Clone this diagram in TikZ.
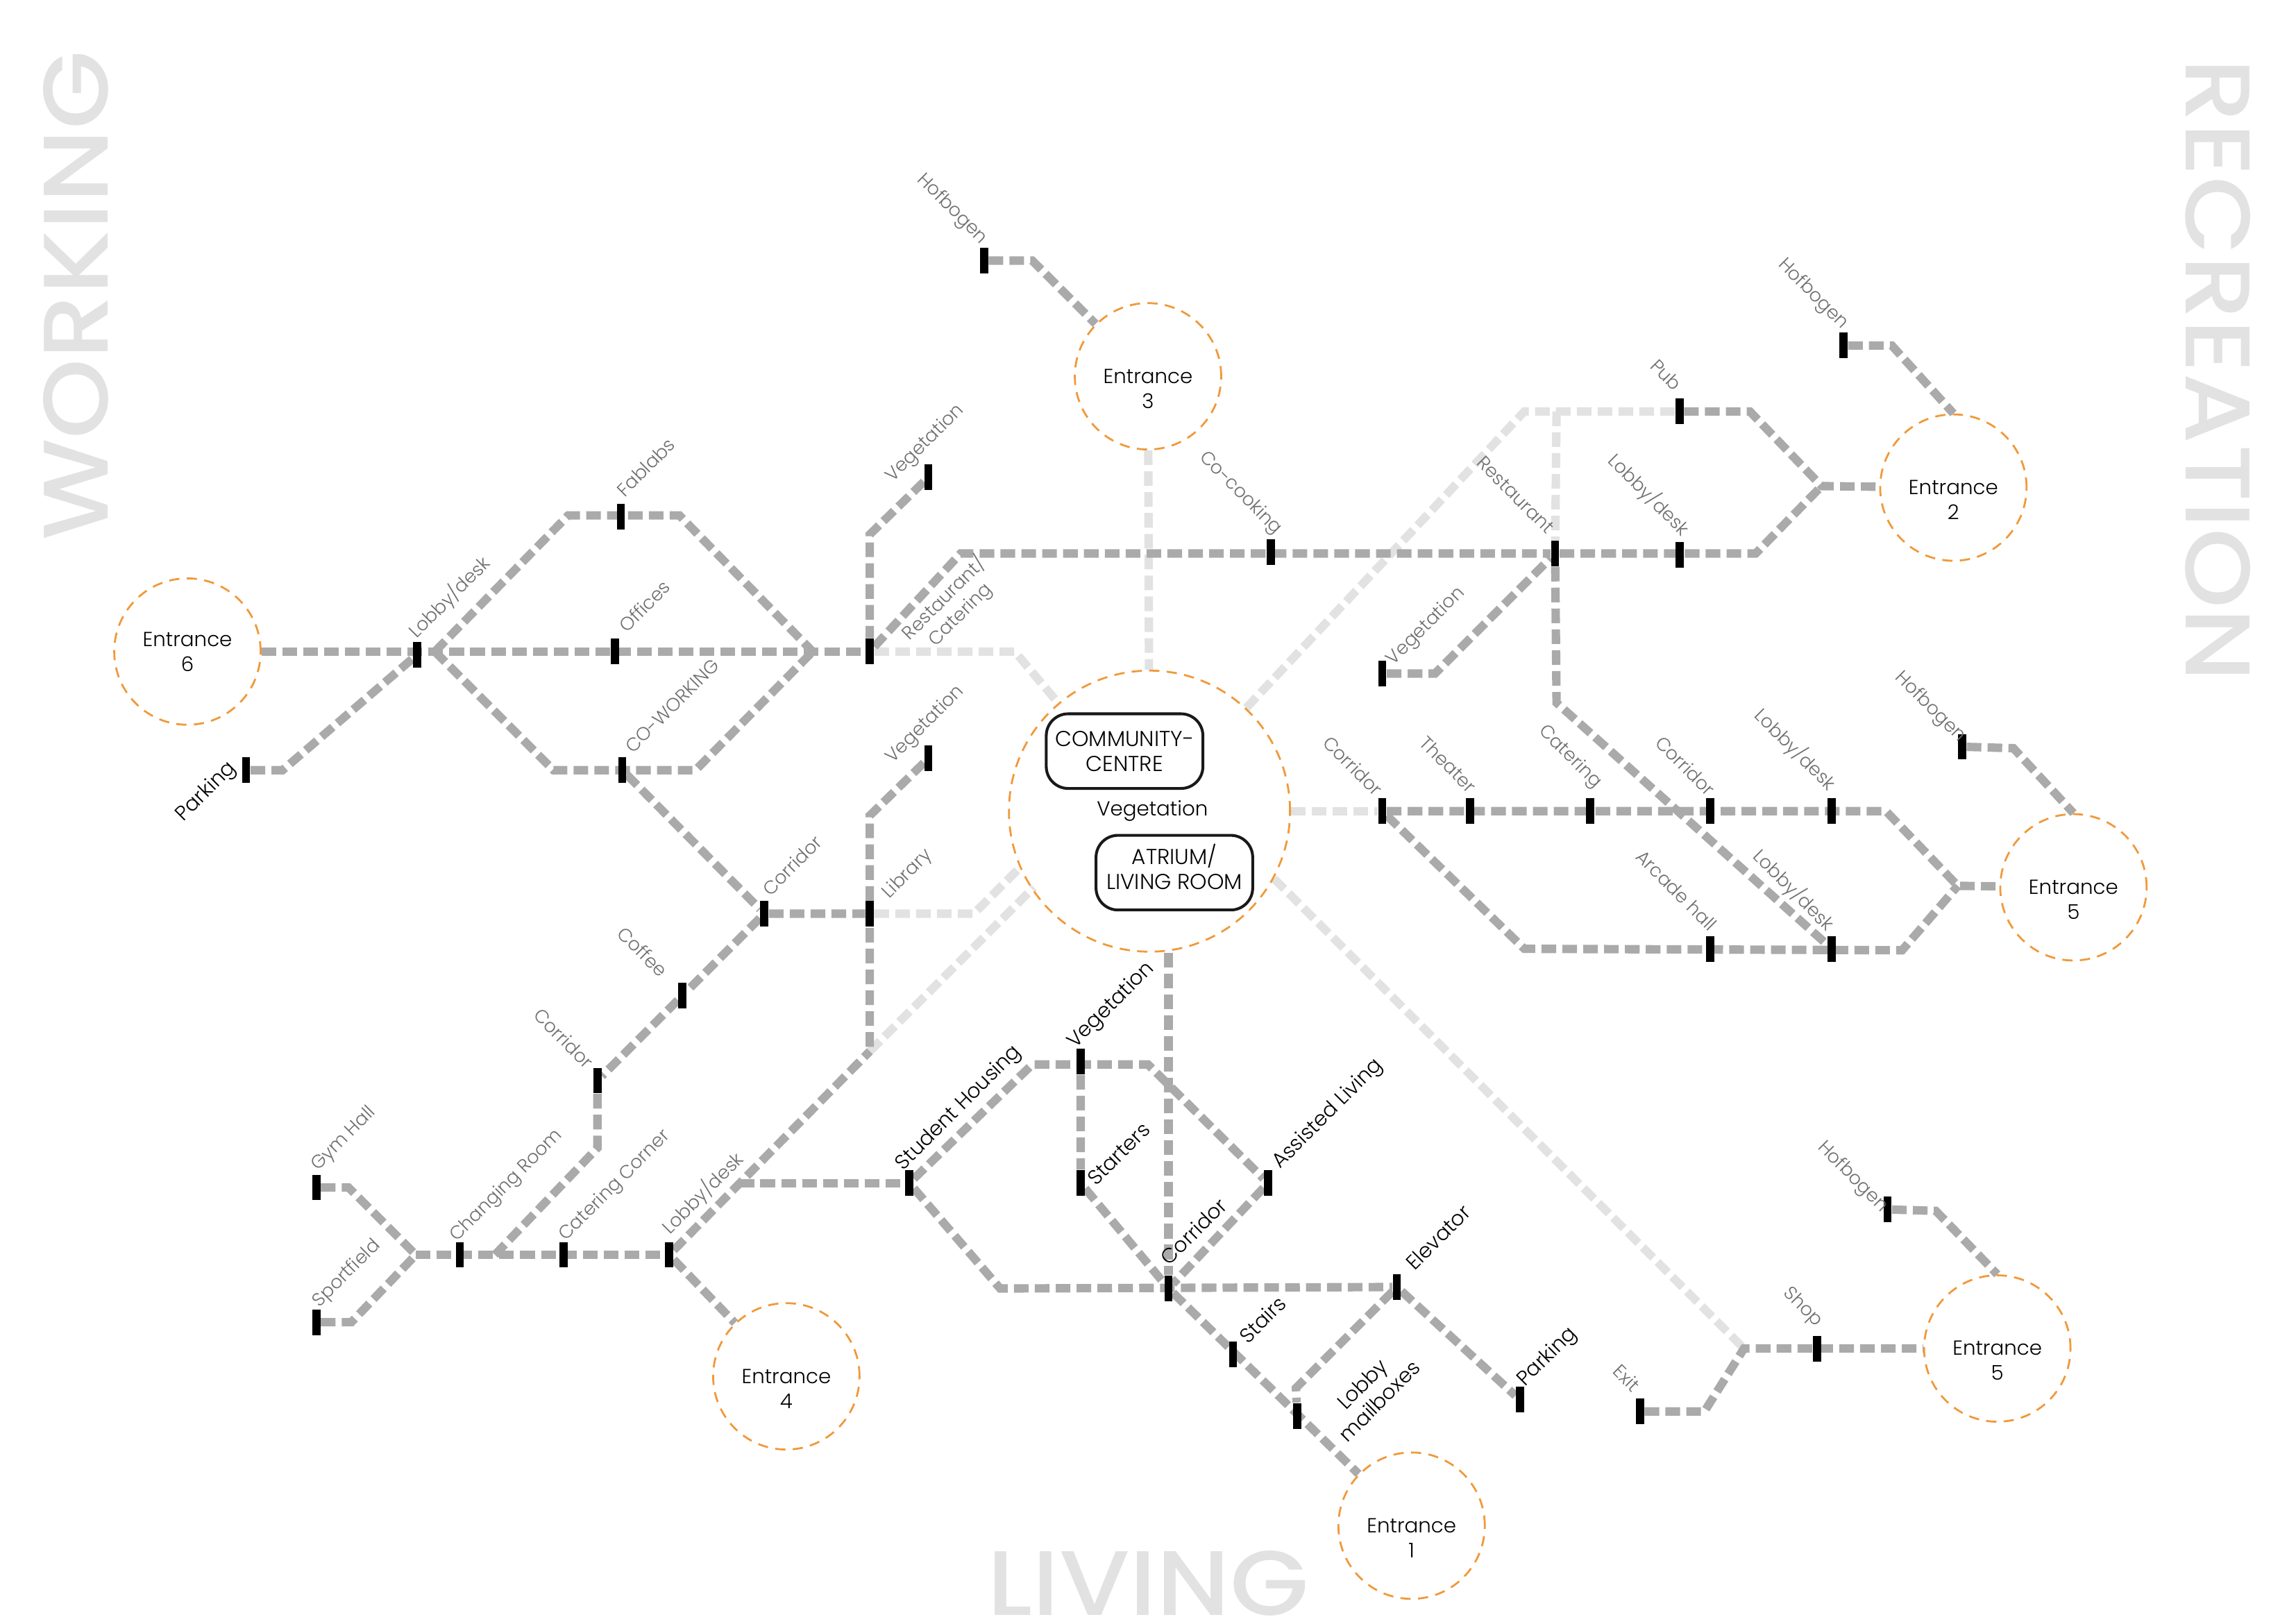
\documentclass[tikz,border=0pt]{standalone}
\usepackage{fontspec}
\setmainfont{Poppins Light}
\newfontfamily\titlefont{Poppins Medium}
\usetikzlibrary{backgrounds, positioning}

\definecolor{railgrey}{HTML}{A9AAA9}
\definecolor{raillight}{HTML}{E1E2E1}
\definecolor{gateorange}{HTML}{F0993A}
\definecolor{labelgrey}{HTML}{707070}

\newcommand{\gatetext}[1]{\rule{0pt}{0.53cm}Entrance\\#1}

\tikzset{
    rail/.style={draw=railgrey, line width=0.115cm, dash pattern=on 0.2cm off 0.085cm},
    lightrail/.style={rail, draw=raillight},
    halt/.style={rectangle, fill=black, minimum width=0.11cm, minimum height=0.35cm, inner sep=0pt},
    gate/.style={circle, draw=gateorange, line width=0.75pt, dash pattern=on 0.14cm off 0.1cm,
        minimum size=2cm, inner sep=0pt, align=center, font=\fontsize{7.9}{9.7}\selectfont},
    room/.style={rectangle, rounded corners=0.3cm, draw=black!90, line width=1.1pt, minimum width=2.14cm,
        minimum height=1.02cm, inner sep=0pt, align=center, font=\fontsize{8.4}{9.8}\selectfont},
    tagup/.style={rotate=45, text=labelgrey, inner sep=0pt, align=center, font=\fontsize{7.2}{8.8}\selectfont},
    tagdown/.style={rotate=-45, text=labelgrey, inner sep=0pt, align=center, font=\fontsize{7.2}{8.8}\selectfont},
    blackup/.style={tagup, text=black, font=\fontsize{8}{9.4}\selectfont},
    zone/.style={text=raillight, inner sep=0pt, font=\titlefont\fontsize{39.6}{40}\selectfont}
}

\begin{document}
\begin{tikzpicture}[x=0.02cm, y=-0.02cm]
    \useasboundingbox (0,0) rectangle (1568,1108.7);

    % Entrances and centre
    \node[gate] (gate6) at (128,445) {Entrance\\6};
    \node[gate] (gate3) at (784,257) {\gatetext{3}};
    \node[gate] (gate2) at (1334,333) {\gatetext{2}};
    \node[gate] (gate5a) at (1416,606) {\gatetext{5}};
    \node[gate] (gate5b) at (1364,921) {\gatetext{5}};
    \node[gate] (gate4) at (537,940) {\gatetext{4}};
    \node[gate] (gate1) at (964,1042) {\gatetext{1}};
    \node[gate, minimum size=3.84cm] (hub) at (785,554) {};
    \node[room] (community) at (768,513) {COMMUNITY-\\CENTRE};
    \node[room] (atrium) at (802,596) {ATRIUM/\\LIVING ROOM\rule[-0.16cm]{0pt}{0pt}};
    \node[font=\fontsize{7.9}{9.7}\selectfont] (hubveg) at (787,554) {Vegetation};

    % Stops
    \node[halt] (parking6) at (168,526) {};
    \node[halt] (lobby6) at (285,447) {};
    \node[halt] (fablabs) at (424,353) {};
    \node[halt] (offices) at (420,445) {};
    \node[halt] (coworking) at (425,526) {};
    \node[halt] (restcat) at (594,445) {};
    \node[halt] (vegtop) at (634,326) {};
    \node[halt] (vegmid) at (634,518) {};
    \node[halt] (corridorw) at (522,624) {};
    \node[halt] (library) at (594,624) {};
    \node[halt] (coffee) at (466,680) {};
    \node[halt] (corridorsw) at (408,738) {};
    \node[halt] (gymhall) at (216,811) {};
    \node[halt] (sportfield) at (216,903) {};
    \node[halt] (changing) at (314,857) {};
    \node[halt] (catercorner) at (385,857) {};
    \node[halt] (lobby4) at (457,857) {};
    \node[halt] (student) at (621,808) {};
    \node[halt] (vegsouth) at (738,725) {};
    \node[halt] (starters) at (738,808) {};
    \node[halt] (assisted) at (866,808) {};
    \node[halt] (corridors) at (798,880) {};
    \node[halt] (elevator) at (954,879) {};
    \node[halt] (stairs) at (842,925) {};
    \node[halt] (mailboxes) at (886,967) {};
    \node[halt] (parking1) at (1038,956) {};
    \node[halt] (exit) at (1120,964) {};
    \node[halt] (shop) at (1241,921) {};
    \node[halt] (hofbogen5b) at (1289,826) {};
    \node[halt] (hofbogen3) at (672,178) {};
    \node[halt] (hofbogen2) at (1259,236) {};
    \node[halt] (hofbogen5a) at (1340,510) {};
    \node[halt] (pub) at (1147,281) {};
    \node[halt] (cocooking) at (868,377) {};
    \node[halt] (restaurant) at (1062,378) {};
    \node[halt] (lobby2) at (1147,379) {};
    \node[halt] (vegeast) at (944,460) {};
    \node[halt] (corridore) at (944,554) {};
    \node[halt] (theater) at (1004,554) {};
    \node[halt] (catering) at (1086,554) {};
    \node[halt] (corridorf) at (1168,554) {};
    \node[halt] (lobby5a) at (1251,554) {};
    \node[halt] (arcade) at (1168,648) {};
    \node[halt] (lobby5b) at (1251,648) {};

    % Bends
    \coordinate (joinw) at (297,445);
    \coordinate (joine) at (555,445);
    \coordinate (parkbend) at (193,526);
    \coordinate (fabl) at (388,352);
    \coordinate (fabr) at (464,352);
    \coordinate (cowl) at (378,526);
    \coordinate (cowr) at (475,526);
    \coordinate (vegtopbend) at (594,365);
    \coordinate (vegmidbend) at (594,557);
    \coordinate (eastbend) at (656,378);
    \coordinate (gymbend) at (238,811);
    \coordinate (sportbend) at (240,903);
    \coordinate (joinsw) at (284,857);
    \coordinate (changebend) at (408,784);
    \coordinate (changejoin) at (338,857);
    \coordinate (lobbyjoin) at (505,808);
    \coordinate (libfoot) at (594,718);
    \coordinate (studtop) at (705,727);
    \coordinate (studtopr) at (784,727);
    \coordinate (studfoot) at (683,880);
    \coordinate (elevbend) at (885,948);
    \coordinate (exitbend) at (1164,964);
    \coordinate (shopjoin) at (1191,921);
    \coordinate (hof5bbend) at (1322,827);
    \coordinate (hof3bend) at (705,178);
    \coordinate (hof2bend) at (1292,236);
    \coordinate (hof5abend) at (1375,511);
    \coordinate (pubbend) at (1195,281);
    \coordinate (join2) at (1244,332);
    \coordinate (lobby2bend) at (1199,378);
    \coordinate (vegeastbend) at (980,460);
    \coordinate (restfoot) at (1063,480);
    \coordinate (bend5a) at (1288,554);
    \coordinate (join5a) at (1337,605);
    \coordinate (bend5b) at (1299,649);
    \coordinate (southe) at (1041,648);
    \coordinate (restlight) at (693,445);
    \coordinate (liblight) at (665,624);
    \coordinate (nelight) at (1041,281);
    \coordinate (restup) at (1063,281);

    \begin{scope}[on background layer]
        % Light links
        \draw[lightrail] (gate3) -- (hub);
        \draw[lightrail] (restcat) -- (restlight) -- (hub);
        \draw[lightrail] (library) -- (liblight) -- (697,592);
        \draw[lightrail] (libfoot) -- (706,606);
        \draw[lightrail] (hub) -- (nelight) -- (pub);
        \draw[lightrail] (restup) -- (restaurant);
        \draw[lightrail] (hub) -- (corridore);
        \draw[lightrail] (870,600) -- (shopjoin);

        % Working
        \draw[rail] (gate6) -- (restcat);
        \draw[rail] (parking6) -- (parkbend) -- (lobby6);
        \draw[rail] (joinw) -- (fabl) -- (fabr) -- (joine);
        \draw[rail] (joinw) -- (cowl) -- (cowr) -- (joine);
        \draw[rail] (vegtop) -- (vegtopbend) -- (restcat);
        \draw[rail] (restcat) -- (eastbend) -- (restaurant);
        \draw[rail] (coworking) -- (corridorw) -- (library);
        \draw[rail] (corridorw) -- (coffee) -- (corridorsw) -- (changebend) -- (changejoin);
        \draw[rail] (vegmid) -- (vegmidbend) -- (libfoot);
        \draw[rail] (gymhall) -- (gymbend) -- (joinsw);
        \draw[rail] (sportfield) -- (sportbend) -- (joinsw);
        \draw[rail] (joinsw) -- (lobby4);
        \draw[rail] (lobby4) -- (libfoot);
        \draw[rail] (lobby4) -- (gate4);

        % Living
        \draw[rail] (lobbyjoin) -- (student);
        \draw[rail] (student) -- (studtop) -- (studtopr) -- (assisted);
        \draw[rail] (student) -- (studfoot) -- (elevator);
        \draw[rail] (vegsouth) -- (starters) -- (corridors);
        \draw[rail] (hub.south -| corridors) -- (corridors);
        \draw[rail] (assisted) -- (corridors);
        \draw[rail] (corridors) -- (gate1);
        \draw[rail] (elevator) -- (elevbend) -- (mailboxes);
        \draw[rail] (elevator) -- (parking1);
        \draw[rail] (exit) -- (exitbend) -- (shopjoin) -- (gate5b);
        \draw[rail] (hofbogen5b) -- (hof5bbend) -- (gate5b.north);

        % Recreation
        \draw[rail] (hofbogen3) -- (hof3bend) -- (gate3);
        \draw[rail] (hofbogen2) -- (hof2bend) -- (gate2.north);
        \draw[rail] (pub) -- (pubbend) -- (join2) -- (gate2);
        \draw[rail] (restaurant) -- (lobby2bend) -- (join2);
        \draw[rail] (vegeast) -- (vegeastbend) -- (restaurant);
        \draw[rail] (restaurant) -- (restfoot) -- (lobby5b);
        \draw[rail] (corridore) -- (bend5a) -- (join5a) -- (gate5a);
        \draw[rail] (corridore) -- (southe) -- (bend5b) -- (join5a);
        \draw[rail] (hofbogen5a) -- (hof5abend) -- (gate5a.north);
    \end{scope}

    % Stop labels
    \node[blackup] (tparking6) at (141,541) {Parking};
    \node[tagup] (tlobby6) at (307,408) {Lobby/desk};
    \node[tagup] (tfablabs) at (441,319) {Fablabs};
    \node[tagup] (toffices) at (440,414) {Offices};
    \node[tagup] (tcoworking) at (459,482) {CO-WORKING};
    \node[tagup] (trestcat) at (650,414) {Restaurant/\\Catering};
    \node[tagup] (tvegtop) at (632,303) {Vegetation};
    \node[tagup] (tvegmid) at (632,495) {Vegetation};
    \node[tagup] (tcorridorw) at (541,591) {Corridor};
    \node[tagup] (tlibrary) at (620,597) {Library};
    \node[tagdown] (tcoffee) at (439,650) {Coffee};
    \node[tagdown] (tcorridorsw) at (385,709) {Corridor};
    \node[tagup] (tgymhall) at (235,778) {Gym Hall};
    \node[tagup] (tsportfield) at (237,870) {Sportfield};
    \node[tagup] (tchanging) at (346,810) {Changing Room};
    \node[tagup] (tcatercorner) at (420,810) {Catering Corner};
    \node[tagup] (tlobby4) at (480,815) {Lobby/desk};
    \node[blackup] (tstudent) at (655,757) {Student Housing};
    \node[blackup] (tvegsouth) at (759,687) {Vegetation};
    \node[blackup] (tstarters) at (764,788) {Starters};
    \node[blackup] (tassisted) at (907,761) {Assisted Living};
    \node[blackup] (tcorridors) at (815,841) {Corridor};
    \node[blackup] (televator) at (982,845) {Elevator};
    \node[blackup] (tstairs) at (862,901) {Stairs};
    \node[blackup] (tmailboxes) at (936,951) {Lobby\\mailboxes};
    \node[blackup] (tparking1) at (1057,927) {Parking};
    \node[tagdown] (texit) at (1111,941) {Exit};
    \node[tagdown] (tshop) at (1231,893) {Shop};
    \node[tagdown] (thofbogen5b) at (1265,804) {Hofbogen};
    \node[tagdown] (thofbogen3) at (650,143) {Hofbogen};
    \node[tagdown] (thofbogen2) at (1238,201) {Hofbogen};
    \node[tagdown] (thofbogen5a) at (1318,483) {Hofbogen};
    \node[tagdown] (tpub) at (1138,256) {Pub};
    \node[tagdown] (tcocooking) at (847,337) {Co-cooking};
    \node[tagdown] (trestaurant) at (1035,338) {Restaurant};
    \node[tagdown] (tlobby2) at (1126,338) {Lobby/desk};
    \node[tagup] (tvegeast) at (974,428) {Vegetation};
    \node[tagdown] (tcorridore) at (924,523) {Corridor};
    \node[tagdown] (ttheater) at (989,522) {Theater};
    \node[tagdown] (tcatering) at (1072,517) {Catering};
    \node[tagdown] (tcorridorf) at (1151,523) {Corridor};
    \node[tagdown] (tlobby5a) at (1226,512) {Lobby/desk};
    \node[tagdown] (tarcade) at (1145,608) {Arcade hall};
    \node[tagdown] (tlobby5b) at (1225,608) {Lobby/desk};

    % Zones
    \node[zone, rotate=90, yscale=0.9] (working) at (52,202) {WORKING};
    \node[zone, rotate=-90, yscale=0.9] (recreation) at (1514.5,253) {RECREATION};
    \node[zone, anchor=base, yscale=0.9] (living) at (784,1103) {LIVING};

\end{tikzpicture}
\end{document}
